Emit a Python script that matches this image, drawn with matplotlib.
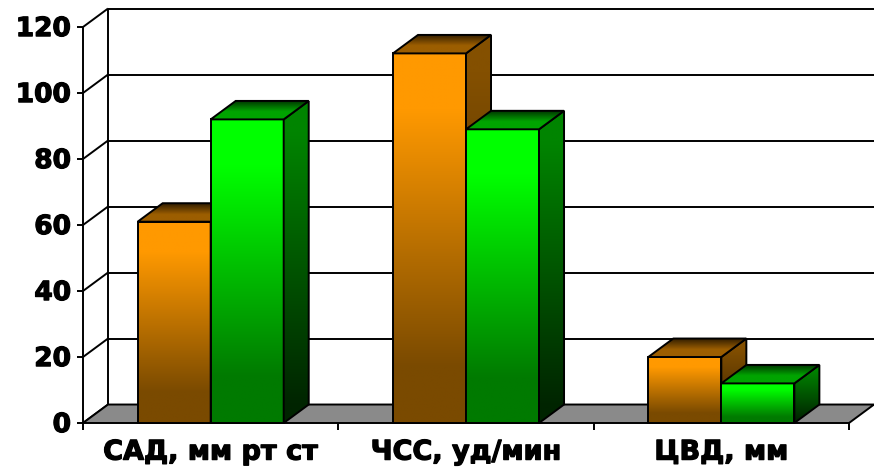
# 3D-style grouped column chart

import numpy as np
import matplotlib
matplotlib.use('Agg')
import matplotlib.pyplot as plt
import matplotlib.patheffects as pe
from matplotlib.patches import Polygon
from matplotlib.colors import to_rgb

# data
categories = ['САД, мм рт ст', 'ЧСС, уд/мин', 'ЦВД, мм']
values_orange = [61, 112, 20]
values_green = [92, 89, 12]
y_ticks = [0, 20, 40, 60, 80, 100, 120]

# depth of the 3D box in data units, and bar width
DX = 0.098
DY = 5.6
BAR_W = 0.286

# face colours: (top, bottom) of each gradient
orange = {'front': ('#ff9900', '#7a4a00'),
          'side': ('#845000', '#3a2300'),
          'top': ('#2e1b00', '#9c5e00')}
green = {'front': ('#00ff00', '#007a00'),
         'side': ('#008400', '#002400'),
         'top': ('#002e00', '#00a400')}

# where the fade starts and ends along a face (0 = top, 1 = bottom)
FADE = {'front': (0.15, 0.85), 'side': (0.1, 0.95), 'top': (0.0, 0.6)}

fig = plt.figure(figsize=(8.74, 4.70), dpi=100)
ax = fig.add_axes([83 / 874, 47 / 470, 766 / 874, 396 / 470])
ax.axis('off')

bold = [pe.withStroke(linewidth=0.9, foreground='black')]
z = [1]


def line(xs, ys, lw=1.4):
    z[0] += 1
    ax.plot(xs, ys, color='black', lw=lw, zorder=z[0], clip_on=False,
            solid_capstyle='butt')


def grad_poly(pts, c_top, c_bot, fade):
    pts = np.array(pts)
    z[0] += 1
    poly = Polygon(pts, closed=True, facecolor='none', edgecolor='none')
    ax.add_patch(poly)
    t = np.interp(np.linspace(0, 1, 128), fade, [0, 1])[:, None, None]
    img = np.array(to_rgb(c_top)) * (1 - t) + np.array(to_rgb(c_bot)) * t
    im = ax.imshow(img, extent=(pts[:, 0].min(), pts[:, 0].max(),
                                pts[:, 1].min(), pts[:, 1].max()),
                   origin='upper', aspect='auto', interpolation='bilinear',
                   zorder=z[0])
    im.set_clip_path(poly)
    z[0] += 1
    ax.add_patch(Polygon(pts, closed=True, facecolor='none',
                         edgecolor='black', lw=1.4, zorder=z[0],
                         joinstyle='miter', clip_on=False))


def bar3d(x0, h, cols):
    x1 = x0 + BAR_W
    grad_poly([(x0, 0), (x1, 0), (x1, h), (x0, h)],
              *cols['front'], FADE['front'])
    grad_poly([(x1, 0), (x1 + DX, DY), (x1 + DX, h + DY), (x1, h)],
              *cols['side'], FADE['side'])
    grad_poly([(x0, h), (x1, h), (x1 + DX, h + DY), (x0 + DX, h + DY)],
              *cols['top'], FADE['top'])


# back wall
z[0] += 1
ax.add_patch(Polygon([(-0.5 + DX, DY), (-0.5 + DX, 120 + DY),
                      (2.5 + DX, 120 + DY), (2.5 + DX, DY)],
                     facecolor='white', edgecolor='none', zorder=z[0],
                     clip_on=False))
for t in y_ticks:
    line([-0.5 + DX, 2.5 + DX], [t + DY, t + DY])
    line([-0.5, -0.5 + DX], [t, t + DY])
    line([-0.5 - 0.024, -0.5], [t, t])
    ax.text(-0.5 - 0.047, t - 2.75, str(t), ha='right', va='baseline',
            fontsize=19, fontweight='bold', zorder=50, path_effects=bold)
line([-0.5 + DX, -0.5 + DX], [DY, 120 + DY])
line([-0.5, -0.5], [-2.2, 120])

# floor
z[0] += 1
ax.add_patch(Polygon([(-0.5, 0), (2.5, 0), (2.5 + DX, DY), (-0.5 + DX, DY)],
                     facecolor='#8a8a8a', edgecolor='black', lw=1.4,
                     zorder=z[0], clip_on=False))
for xt in [0.5, 1.5, 2.5]:
    line([xt, xt], [0, -2.2])

# bars
for i in range(len(categories)):
    bar3d(i - BAR_W, values_orange[i], orange)
    bar3d(i, values_green[i], green)
    ax.text(i, -11.1, categories[i], ha='center', va='baseline',
            fontsize=19.5, fontweight='bold', zorder=50, path_effects=bold)

ax.set_xlim(-0.5, 2.5)
ax.set_ylim(0, 120)

fig.savefig('out.png', dpi=100)
